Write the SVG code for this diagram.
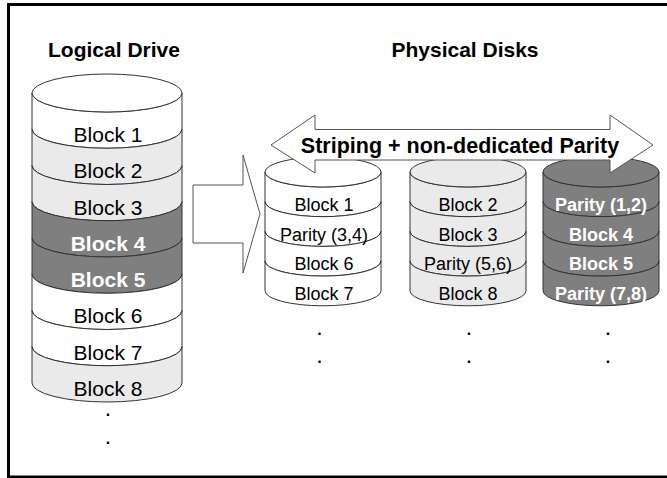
<svg xmlns="http://www.w3.org/2000/svg" width="667" height="478" viewBox="0 0 667 478">
<style>
.band{stroke:#333;stroke-width:1}
.w{fill:#ffffff}.l{fill:#eaeaea}.d{fill:#7f7f7f}
.t{font-family:"Liberation Sans",Arial,sans-serif;text-anchor:middle;fill:#000}
.big{font-size:21px}
.sm{font-size:18px}
.wb{fill:#fff;font-weight:bold}
.ttl{font-family:"Liberation Sans",Arial,sans-serif;font-weight:bold;font-size:21px;text-anchor:middle;fill:#000}
.arr{fill:#fff;stroke:#555;stroke-width:1}
.dot{font-family:"Liberation Sans",Arial,sans-serif;font-size:16px;font-weight:bold;text-anchor:middle}
</style>
<rect x="0" y="0" width="667" height="478" fill="#fff"/>
<rect x="8.5" y="4.5" width="680" height="472.5" fill="none" stroke="#000" stroke-width="3"/>
<text class="ttl" x="114" y="57">Logical Drive</text>
<text class="ttl" x="465" y="57">Physical Disks</text>

<g id="logical-drive">
<path class="band w" d="M32,93 A75,19 0 0 0 182,93 L182,129.25 A75,19 0 0 1 32,129.25 Z"/>
<path class="band l" d="M32,129.25 A75,19 0 0 0 182,129.25 L182,165.5 A75,19 0 0 1 32,165.5 Z"/>
<path class="band l" d="M32,165.5 A75,19 0 0 0 182,165.5 L182,201.75 A75,19 0 0 1 32,201.75 Z"/>
<path class="band d" d="M32,201.75 A75,19 0 0 0 182,201.75 L182,238 A75,19 0 0 1 32,238 Z"/>
<path class="band d" d="M32,238 A75,19 0 0 0 182,238 L182,274.25 A75,19 0 0 1 32,274.25 Z"/>
<path class="band w" d="M32,274.25 A75,19 0 0 0 182,274.25 L182,310.5 A75,19 0 0 1 32,310.5 Z"/>
<path class="band w" d="M32,310.5 A75,19 0 0 0 182,310.5 L182,346.75 A75,19 0 0 1 32,346.75 Z"/>
<path class="band l" d="M32,346.75 A75,19 0 0 0 182,346.75 L182,383 A75,19 0 0 1 32,383 Z"/>
<ellipse class="band w" cx="107" cy="93" rx="75" ry="19"/>
<text class="t big" x="108" y="142">Block 1</text>
<text class="t big" x="108" y="178.25">Block 2</text>
<text class="t big" x="108" y="214.5">Block 3</text>
<text class="t big wb" x="108" y="250.75">Block 4</text>
<text class="t big wb" x="108" y="287">Block 5</text>
<text class="t big" x="108" y="323.25">Block 6</text>
<text class="t big" x="108" y="359.5">Block 7</text>
<text class="t big" x="108" y="395.75">Block 8</text>
<text class="dot" x="108" y="415.5">.</text>
<text class="dot" x="108" y="443.5">.</text>
</g>

<g id="disk1">
<path class="band w" d="M265,172 A58,15 0 0 0 381,172 L381,201.7 A58,15 0 0 1 265,201.7 Z"/>
<path class="band w" d="M265,201.7 A58,15 0 0 0 381,201.7 L381,231.4 A58,15 0 0 1 265,231.4 Z"/>
<path class="band w" d="M265,231.4 A58,15 0 0 0 381,231.4 L381,261.1 A58,15 0 0 1 265,261.1 Z"/>
<path class="band w" d="M265,261.1 A58,15 0 0 0 381,261.1 L381,290.8 A58,15 0 0 1 265,290.8 Z"/>
<ellipse class="band w" cx="323" cy="172" rx="58" ry="15"/>
<text class="t sm" x="324" y="211">Block 1</text>
<text class="t sm" x="324" y="240.7">Parity (3,4)</text>
<text class="t sm" x="324" y="270.4">Block 6</text>
<text class="t sm" x="324" y="300.1">Block 7</text>
<text class="dot" x="319.5" y="334.5">.</text>
<text class="dot" x="319.5" y="362.5">.</text>
</g>

<g id="disk2">
<path class="band l" d="M410,172 A58,15 0 0 0 526,172 L526,201.7 A58,15 0 0 1 410,201.7 Z"/>
<path class="band l" d="M410,201.7 A58,15 0 0 0 526,201.7 L526,231.4 A58,15 0 0 1 410,231.4 Z"/>
<path class="band l" d="M410,231.4 A58,15 0 0 0 526,231.4 L526,261.1 A58,15 0 0 1 410,261.1 Z"/>
<path class="band l" d="M410,261.1 A58,15 0 0 0 526,261.1 L526,290.8 A58,15 0 0 1 410,290.8 Z"/>
<ellipse class="band l" cx="468" cy="172" rx="58" ry="15"/>
<text class="t sm" x="468" y="211">Block 2</text>
<text class="t sm" x="468" y="240.7">Block 3</text>
<text class="t sm" x="468" y="270.4">Parity (5,6)</text>
<text class="t sm" x="468" y="300.1">Block 8</text>
<text class="dot" x="469" y="334.5">.</text>
<text class="dot" x="469" y="362.5">.</text>
</g>

<g id="disk3">
<path class="band d" d="M543,172 A58,15 0 0 0 659,172 L659,201.7 A58,15 0 0 1 543,201.7 Z"/>
<path class="band d" d="M543,201.7 A58,15 0 0 0 659,201.7 L659,231.4 A58,15 0 0 1 543,231.4 Z"/>
<path class="band d" d="M543,231.4 A58,15 0 0 0 659,231.4 L659,261.1 A58,15 0 0 1 543,261.1 Z"/>
<path class="band d" d="M543,261.1 A58,15 0 0 0 659,261.1 L659,290.8 A58,15 0 0 1 543,290.8 Z"/>
<ellipse class="band d" cx="601" cy="172" rx="58" ry="15"/>
<text class="t sm wb" x="601" y="211">Parity (1,2)</text>
<text class="t sm wb" x="601" y="240.7">Block 4</text>
<text class="t sm wb" x="601" y="270.4">Block 5</text>
<text class="t sm wb" x="601" y="300.1">Parity (7,8)</text>
<text class="dot" x="608" y="334.5">.</text>
<text class="dot" x="608" y="362.5">.</text>
</g>

<g id="connectors">
<path id="map-arrow" class="arr" d="M193,185 L243,185 L243,155 L260,214 L243,273 L243,243 L193,243 Z"/>
<g id="striping-arrow">
<path class="arr" d="M271,145 L315,115 L315,129.5 L610,129.5 L610,115 L653,145 L610,173 L610,160 L315,160 L315,173 Z"/>
<text class="t" style="font-weight:bold;font-size:21.5px" x="460" y="153">Striping + non-dedicated Parity</text>
</g>
</g>
</svg>
